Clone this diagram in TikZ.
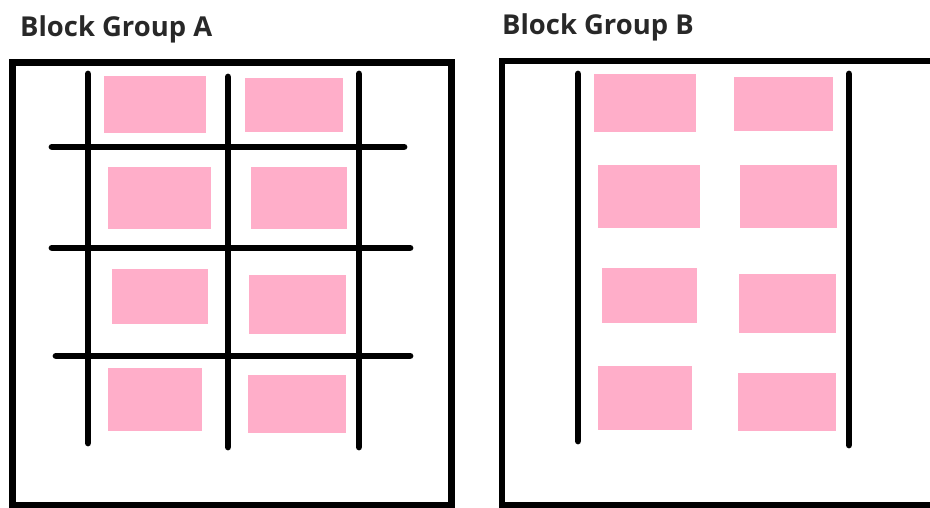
\documentclass[tikz,border=0pt]{standalone}
\usepackage{fontspec}
\setmainfont{Open Sans}
\definecolor{rose}{RGB}{255,174,201}
\definecolor{titlegray}{RGB}{40,40,40}
\tikzset{
  frame/.style={draw=black, line width=6.5pt},
  gridline/.style={draw=black, line width=6.8pt, line cap=round},
  block/.style={fill=rose, draw=none, inner sep=0pt, outer sep=0pt},
  title/.style={font=\fontsize{27.4}{31}\selectfont\bfseries, text=titlegray, anchor=base west, inner sep=0pt},
}
\begin{document}
\begin{tikzpicture}[x=1pt,y=-1pt]
\useasboundingbox (0,0) rectangle (930,508);
\clip (0,0) rectangle (930,508);
% titles
\node[title] (titleA) at (20,37) {Block Group A};
\node[title] (titleB) at (502,35) {Block Group B};
% frames
\draw[frame] (12.5,62.5) rectangle (451.5,505.5);
\draw[frame] (502,61) rectangle (945,505.5);
% group A blocks
\fill[block] (104,76) rectangle (206,133);
\fill[block] (245,78) rectangle (343,132);
\fill[block] (108,167) rectangle (211,229);
\fill[block] (251,167) rectangle (347,229);
\fill[block] (112,269) rectangle (208,324);
\fill[block] (249,275) rectangle (346,334);
\fill[block] (108,368) rectangle (202,431);
\fill[block] (248,375) rectangle (346,433);
% group A grid
\coordinate (av1t) at (88,74);  \coordinate (av1b) at (88,443);
\coordinate (av2t) at (228,77); \coordinate (av2b) at (228,447);
\coordinate (av3t) at (359,74); \coordinate (av3b) at (359,447);
\coordinate (ah1l) at (52,147); \coordinate (ah1r) at (404,147);
\coordinate (ah2l) at (52,248); \coordinate (ah2r) at (410,248);
\coordinate (ah3l) at (56,356); \coordinate (ah3r) at (410,356);
\draw[gridline] (av1t) -- (av1b);
\draw[gridline] (av2t) -- (av2b);
\draw[gridline] (av3t) -- (av3b);
\draw[gridline] (ah1l) -- (ah1r);
\draw[gridline] (ah2l) -- (ah2r);
\draw[gridline] (ah3l) -- (ah3r);
% group B blocks
\fill[block] (594,74) rectangle (696,132);
\fill[block] (734,77) rectangle (833,131);
\fill[block] (598,165) rectangle (700,228);
\fill[block] (740,165) rectangle (837,228);
\fill[block] (602,268) rectangle (697,323);
\fill[block] (739,274) rectangle (836,333);
\fill[block] (598,366) rectangle (692,430);
\fill[block] (738,373) rectangle (836,431);
% group B lines
\coordinate (bv1t) at (578,74); \coordinate (bv1b) at (578,441);
\coordinate (bv2t) at (849,74); \coordinate (bv2b) at (849,445);
\draw[gridline] (bv1t) -- (bv1b);
\draw[gridline] (bv2t) -- (bv2b);
\end{tikzpicture}
\end{document}
